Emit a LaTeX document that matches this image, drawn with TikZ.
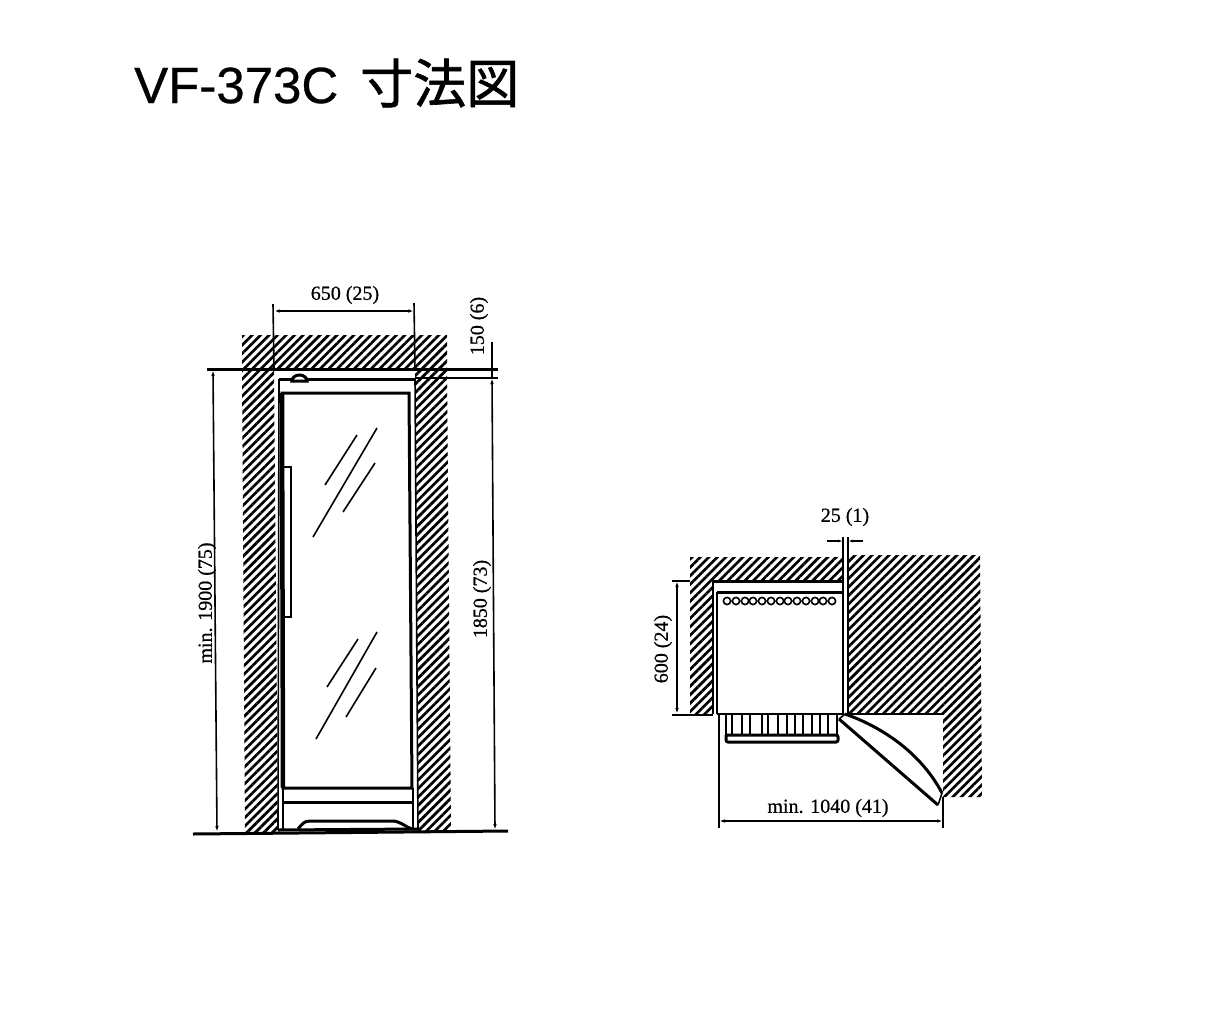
\documentclass[tikz,border=0pt]{standalone}
\usepackage{fontspec}
\setmainfont[FakeBold=0.7]{Liberation Serif}
\newfontfamily\titlefont[FakeBold=0.6]{Liberation Sans}
\newfontfamily\cjk[FakeBold=1.2]{Noto Sans CJK JP}
\usetikzlibrary{patterns.meta,arrows.meta}
\begin{document}
\begin{tikzpicture}[x=1pt,y=-1pt,
  hatch/.style={pattern={Lines[angle=45,distance=6pt,line width=2.7pt]},draw=none},
  dimline/.style={line width=1.6pt,{Latex[length=6pt,width=3.5pt]}-{Latex[length=6pt,width=3.5pt]}},
  thinline/.style={line width=1.6pt},
  heavy/.style={line width=3pt},
  dimtext/.style={font=\fontsize{20}{20}\selectfont,inner sep=0pt}]
\useasboundingbox (0,0) rectangle (1218,1020);

\node[anchor=west,inner sep=0pt,font=\fontsize{51}{51}\selectfont\titlefont] (title) at (134,83) {VF-373C\hspace{22pt}{\fontsize{53}{53}\selectfont\cjk 寸法図}};

%front view walls
\fill[hatch] (242,335) -- (447,335) -- (447,369) -- (242,369) -- cycle;
\fill[hatch] (242,369) -- (274,369) -- (278,833) -- (245,833) -- cycle;
\fill[hatch] (415,369) -- (447,369) -- (451,831) -- (418,832) -- cycle;

%front view cabinet
\coordinate (A) at (279,379);
\coordinate (B) at (415,379);
\coordinate (C) at (418,829);
\coordinate (D) at (278,830);
\draw [thinline] (D) -- (A);
\draw [thinline] (B) -- (C);
\draw [heavy] (A) -- (B);
\draw [heavy] (D) -- (C);

%door
\coordinate (E) at (282,393);
\coordinate (F) at (409,393);
\coordinate (G) at (412,788);
\coordinate (H) at (283,788);
\draw [heavy] (H) -- (E) -- (F) -- (G) -- cycle;
\draw [line width=4.5pt] (E) -- (H);
\path (284,802) coordinate (I) edge [heavy] (413,802) coordinate (J);
\draw [thinline] (283,829) -- (283,788) (413,829) -- (413,788);
\draw [heavy,fill=white] (292,381) arc (180:0:7.5 and -6) -- cycle;

%handle
\draw [thinline] (283,467) rectangle (291,617);

%foot
\draw [heavy] (298,829) .. controls (302,824) and (304,821) .. (310,821) -- (392,821) .. controls (400,821) and (404,826) .. (412,829);

%glass
\draw [thinline] (377,428) -- (313,537);
\draw [thinline] (357,435) -- (325,485);
\draw [thinline] (375,463) -- (343,512);
\draw [thinline] (377,632) -- (316,739);
\draw [thinline] (358,639) -- (327,687);
\draw [thinline] (376,668) -- (346,717);

%front view dimensions
\coordinate (W1) at (274,311);
\coordinate (W2) at (414,311);
\draw [thinline] (273,304) -- (274,369);
\draw [thinline] (414,303) -- (415,369);
\path (W1) edge [dimline] (W2);
\node[dimtext] (w650) at (345,295) {650 (25)};

\draw [heavy] (207,369) -- (498,369);
\draw [thinline] (415,378) -- (498,378);
\coordinate (H1) at (213,370);
\coordinate (H2) at (217,832);
\path (H1) edge [dimline] (H2);
\node[dimtext,rotate=90] (h1900) at (207,603) {min. 1900 (75)};
\coordinate (K1) at (492,378);
\coordinate (K2) at (495,830);
\path (K1) edge [dimline] (K2);
\draw [thinline] (492,342) -- (492,378);
\node[dimtext,rotate=90] (k1850) at (482,599) {1850 (73)};
\node[dimtext,rotate=90] (k150) at (479,326) {150 (6)};
\draw [heavy] (193,834) -- (508,831);

%plan walls
\fill[hatch] (690,557) -- (843,557) -- (843,581) -- (713,581) -- (713,714) -- (690,714) -- cycle;
\fill[hatch] (848,555) -- (980,555) -- (982,797) -- (943,797) -- (943,714) -- (848,714) -- cycle;

%plan cabinet
\draw [heavy] (713,581) -- (843,581);
\draw [thinline] (713,714) -- (713,581);
\draw [thinline] (843,537) -- (843,714);
\draw [thinline] (848,537) -- (848,714) -- (943,714);
\draw [thinline] (717,714) -- (717,592);
\draw [heavy] (717,592) -- (843,592);
\draw [thinline] (717,714) -- (843,714);
\draw [thinline] (727,601) circle (3.6) (736,601) circle (3.6) (745,601) circle (3.6) (753,601) circle (3.6) (762,601) circle (3.6) (771,601) circle (3.6) (780,601) circle (3.6) (788,601) circle (3.6) (797,601) circle (3.6) (806,601) circle (3.6) (815,601) circle (3.6) (823,601) circle (3.6) (832,601) circle (3.6);
\draw [thinline] (726,715) -- (726,735) (732,715) -- (732,735) (742,715) -- (742,735) (750,715) -- (750,735) (762,715) -- (762,735) (768,715) -- (768,735) (778,715) -- (778,735) (787,715) -- (787,735) (795,715) -- (795,735) (803,715) -- (803,735) (812,715) -- (812,735) (820,715) -- (820,735) (828,715) -- (828,735) (837,715) -- (837,735);
\draw [heavy,rounded corners=2pt] (726,735) -- (726,742) -- (838,742) -- (838,735) -- (726,735);

%plan door
\coordinate (P) at (839,719);
\coordinate (Q) at (845,714);
\coordinate (R) at (942,793);
\coordinate (S) at (938,805);
\draw [heavy] (Q) .. controls (885,728) and (922,755) .. (R);
\draw [heavy] (P) -- (S);
\draw [thinline] (P) -- (Q) (R) -- (S);

%plan dimensions
\draw [thinline] (719,714) -- (719,828);
\draw [thinline] (943,797) -- (943,828);
\coordinate (M1) at (719,821);
\coordinate (M2) at (943,821);
\path (M1) edge [dimline] (M2);
\node[dimtext] (m1040) at (828,808) {min. 1040 (41)};
\coordinate (T1) at (677,581);
\coordinate (T2) at (677,714);
\path (T1) edge [dimline] (T2);
\draw [thinline] (672,581) -- (690,581);
\draw [thinline] (672,715) -- (713,715);
\node[dimtext,rotate=90] (t600) at (663,649) {600 (24)};
\coordinate (U1) at (827,541);
\coordinate (U2) at (843,541);
\coordinate (U3) at (848,541);
\coordinate (U4) at (863,541);
\draw [thinline,-{Latex[length=5pt,width=3pt]}] (U1) -- (U2);
\draw [thinline,-{Latex[length=5pt,width=3pt]}] (U4) -- (U3);
\node[dimtext] (u25) at (845,517) {25 (1)};
\end{tikzpicture}
\end{document}
